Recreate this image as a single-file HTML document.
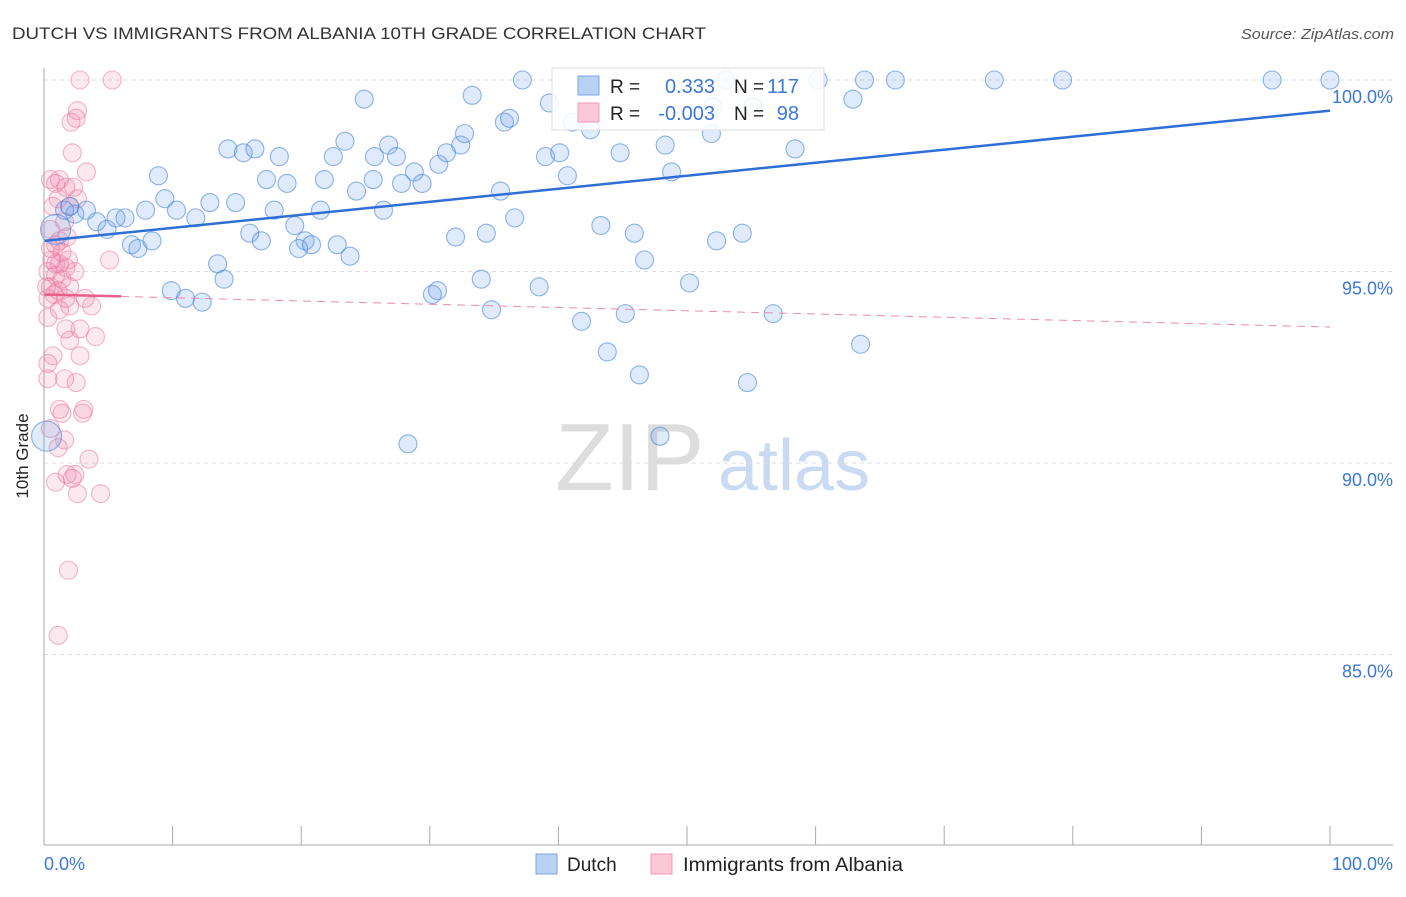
<!DOCTYPE html>
<html><head><meta charset="utf-8"><style>
body{margin:0;background:#fff;font-family:"Liberation Sans",sans-serif;}
svg text{font-family:"Liberation Sans",sans-serif;}
</style></head><body>
<svg id="chart" width="1406" height="892">
<text x="12" y="39" font-size="17" fill="#333" textLength="694" lengthAdjust="spacingAndGlyphs">DUTCH VS IMMIGRANTS FROM ALBANIA 10TH GRADE CORRELATION CHART</text>
<text x="1394" y="39" font-size="15" fill="#555" font-style="italic" text-anchor="end" textLength="153" lengthAdjust="spacingAndGlyphs">Source: ZipAtlas.com</text>
<g>
<text x="555" y="490" font-size="96" fill="#ddd" font-family="Liberation Serif">ZIP</text>
<text x="718" y="490" font-size="72" fill="#c9daf2">atlas</text>
</g>
<g id="grid"></g><g id="pts"></g><g id="lines"></g>
<line x1="44" y1="68" x2="44" y2="845" stroke="#aaa"/>
<line x1="44" y1="845" x2="1393" y2="845" stroke="#aaa"/>
<text x="28" y="456" font-size="17" fill="#222" transform="rotate(-90 28 456)" text-anchor="middle">10th Grade</text>
<text x="44" y="870" font-size="18" fill="#3b78d8">0.0%</text>
<text x="1393" y="870" font-size="18" fill="#3b78d8" text-anchor="end">100.0%</text>
<g>
<rect x="552" y="68" width="272" height="62" fill="#fff" fill-opacity="0.85" stroke="#ddd"/>
<rect x="578" y="76" width="21" height="19" fill="#b9d2f4" stroke="#7aa6e6"/>
<rect x="578" y="103" width="21" height="19" fill="#fbc8d8" stroke="#f09ab4"/>
<text x="610" y="93" font-size="19" fill="#222">R =</text>
<text x="715" y="93" font-size="20" fill="#3b78d8" text-anchor="end">0.333</text>
<text x="734" y="93" font-size="19" fill="#222">N =</text>
<text x="799" y="93" font-size="20" fill="#3b78d8" text-anchor="end">117</text>
<text x="610" y="120" font-size="19" fill="#222">R =</text>
<text x="715" y="120" font-size="20" fill="#3b78d8" text-anchor="end">-0.003</text>
<text x="734" y="120" font-size="19" fill="#222">N =</text>
<text x="799" y="120" font-size="20" fill="#3b78d8" text-anchor="end">98</text>
</g>
<g>
<rect x="536" y="854" width="21" height="20" fill="#b9d2f4" stroke="#7aa6e6"/>
<text x="567" y="871" font-size="19" fill="#222">Dutch</text></g>
<g>
<rect x="651" y="854" width="21" height="20" fill="#fbc8d8" stroke="#f09ab4"/>
<text x="683" y="871" font-size="19" fill="#222" textLength="220" lengthAdjust="spacingAndGlyphs">Immigrants from Albania</text></g>
</svg>
<script>
const yTicks=[100,95,90,85];
const yTickLabels=["100.0%","95.0%","90.0%","85.0%"];
const dutchX=[8.9,9.4,6.8,7.3,8.4,4.1,4.9,5.6,6.3,2.4,3.3,1.6,7.9,10.3,11.8,12.9,14.9,14.3,15.5,16.4,18.3,17.3,18.9,16.0,16.9,17.9,19.5,20.3,19.8,20.8,21.5,21.8,22.5,22.8,23.8,23.4,24.3,24.9,25.6,25.7,26.4,26.8,27.4,27.8,28.8,29.4,30.7,31.3,32.4,32.7,33.3,32.0,34.4,35.5,35.8,36.2,36.6,37.2,39.0,39.3,40.1,40.7,41.1,42.5,43.3,44.8,45.9,46.7,48.3,48.8,51.9,53.0,52.0,55.1,54.3,52.3,58.4,60.2,62.9,63.8,66.2,73.9,79.2,95.5,100,34.0,30.2,30.6,34.8,38.5,41.8,43.8,45.2,46.3,47.9,50.2,54.7,56.7,63.5,28.3,9.9,11.0,12.3,13.5,14.0,0.2,0.9,2.0];
const dutchY=[97.5,96.9,95.7,95.6,95.8,96.3,96.1,96.4,96.4,96.5,96.6,96.6,96.6,96.6,96.4,96.8,96.8,98.2,98.1,98.2,98.0,97.4,97.3,96.0,95.8,96.6,96.2,95.8,95.6,95.7,96.6,97.4,98.0,95.7,95.4,98.4,97.1,99.5,97.4,98.0,96.6,98.3,98.0,97.3,97.6,97.3,97.8,98.1,98.3,98.6,99.6,95.9,96.0,97.1,98.9,99.0,96.4,100,98.0,99.4,98.1,97.5,98.9,98.7,96.2,98.1,96.0,95.3,98.3,97.6,98.6,100,99.3,99.3,96.0,95.8,98.2,100,99.5,100,100,100,100,100,100,94.8,94.4,94.5,94.0,94.6,93.7,92.9,93.9,92.3,90.7,94.7,92.1,93.9,93.1,90.5,94.5,94.3,94.2,95.2,94.8,90.7,96.1,96.7];
const albX=[2.8,5.3,2.6,2.5,2.1,2.2,3.3,0.5,0.9,1.2,1.7,2.3,1.1,2.0,2.6,0.7,1.6,0.5,1.2,0.9,1.8,0.6,1.2,1.7,0.3,0.9,1.4,0.5,1.1,2.0,2.4,0.8,1.7,0.3,5.1,3.2,3.7,2.0,1.2,0.3,1.7,2.8,4.0,2.0,0.7,2.8,0.3,1.6,2.5,0.3,1.2,3.1,3.0,1.4,0.5,1.6,1.1,3.5,1.8,2.4,0.9,2.2,2.6,4.4,1.9,1.1,0.5,0.9,1.4,1.9,0.2];
const albY=[100,100,99.2,99.0,98.9,98.1,97.6,97.4,97.3,97.4,97.2,97.2,96.9,96.7,96.9,96.7,96.3,96.1,95.8,95.7,95.9,95.3,95.2,95.1,95.0,94.9,94.8,94.6,94.5,94.6,95.0,94.4,94.3,94.3,95.3,94.3,94.1,94.1,94.0,93.8,93.5,93.5,93.3,93.2,92.8,92.8,92.6,92.2,92.1,92.2,91.4,91.4,91.3,91.3,90.9,90.6,90.4,90.1,89.7,89.7,89.5,89.6,89.2,89.2,87.2,85.5,95.6,95.2,95.5,95.3,94.6];
const dutchTrend=[95.8,99.2];
const albTrend=[94.4,93.55];
const NS="http://www.w3.org/2000/svg";
const X=v=>44+v*12.86;
const Y=v=>80+(100-v)*38.3;
function mk(t,a,p){const e=document.createElementNS(NS,t);for(const k in a)e.setAttribute(k,a[k]);p.appendChild(e);return e;}
const grid=document.getElementById('grid');
yTicks.forEach((t,i)=>{
 const l=mk('line',{x1:44,x2:1393,y1:Y(t),y2:Y(t),stroke:'#ddd','stroke-dasharray':'4,4'},grid);
 
 
 const tx=mk('text',{x:1393,y:Y(t)+23,'font-size':18,fill:'#3b78d8','text-anchor':'end'},grid);
 tx.textContent=yTickLabels[i];
 
 
});
for(let i=0;i<=10;i++){
 const l=mk('line',{x1:X(i*10),x2:X(i*10),y1:826,y2:845,stroke:'#aaa'},grid);
 
 
}
const pts=document.getElementById('pts');
albX.forEach((x,i)=>{
 const c=mk('circle',{cx:X(x),cy:Y(albY[i]),r:9,fill:'rgba(240,130,165,0.18)',stroke:'rgba(235,120,160,0.55)','stroke-width':1.1},pts);
 
 
});
dutchX.forEach((x,i)=>{
 const big=(i>=dutchX.length-3&&i<dutchX.length-1);
 const c=mk('circle',{cx:X(x),cy:Y(dutchY[i]),r:big?15:9,fill:'rgba(110,160,230,0.22)',stroke:'rgba(70,130,220,0.6)','stroke-width':1.1},pts);
 
 
});
const lines=document.getElementById('lines');
let l=mk('line',{x1:X(0),y1:Y(dutchTrend[0]),x2:X(100),y2:Y(dutchTrend[1]),stroke:'#2d6fd6','stroke-width':2.5},lines);


const pAt=x=>albTrend[0]+(albTrend[1]-albTrend[0])*x/100;
l=mk('line',{x1:X(0),y1:Y(pAt(0)),x2:X(6),y2:Y(pAt(6)),stroke:'#e8608a','stroke-width':2.5},lines);


l=mk('line',{x1:X(6),y1:Y(pAt(6)),x2:X(100),y2:Y(pAt(100)),stroke:'#ec8aa8','stroke-width':1,'stroke-dasharray':'8,6'},lines);


</script>
</body></html>
